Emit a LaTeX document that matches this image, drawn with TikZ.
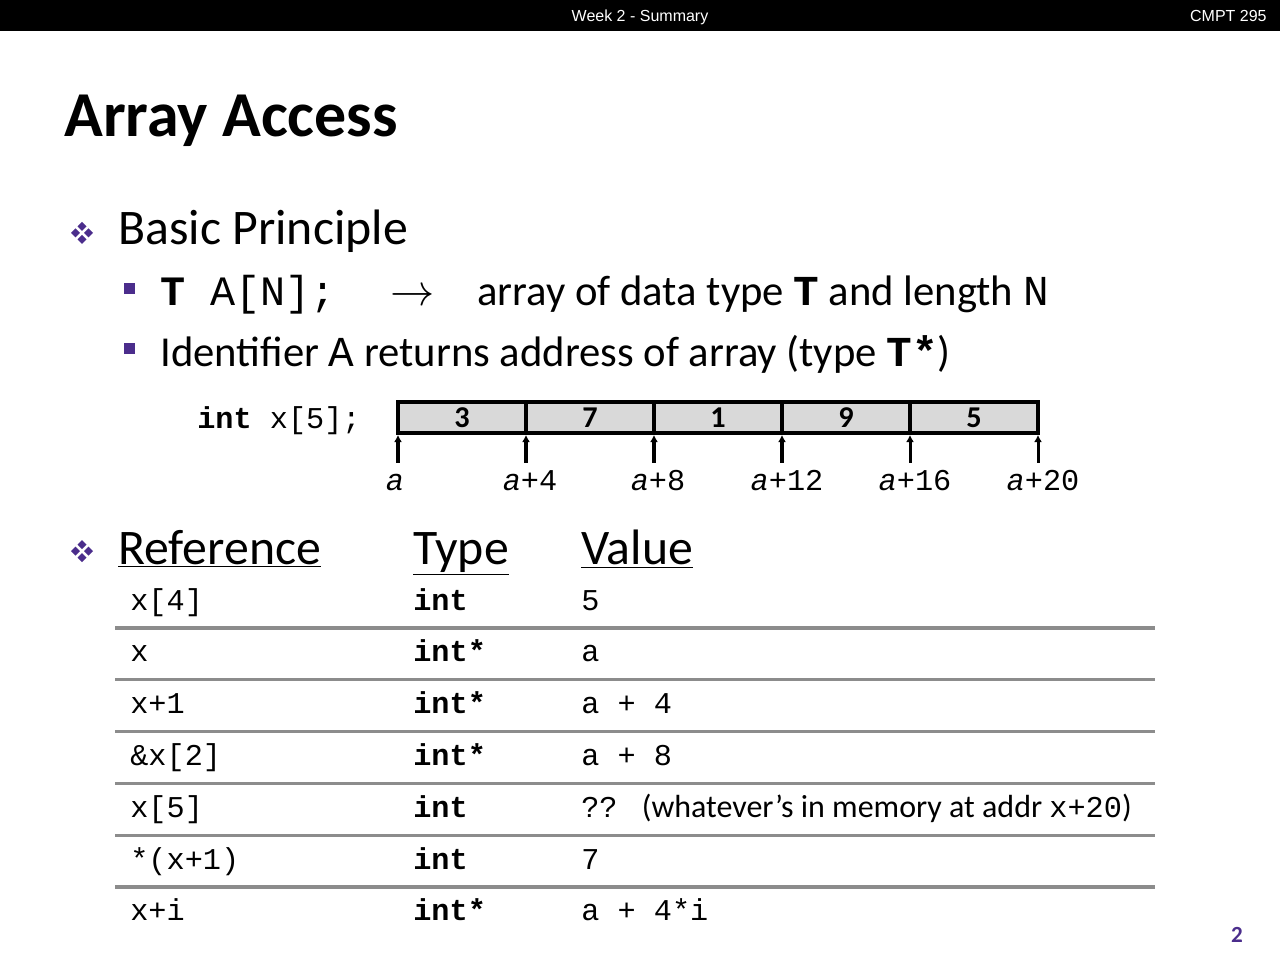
\documentclass[tikz,border=0pt]{standalone}
\usepackage{fontspec}
\setmainfont{Carlito}
\newfontfamily\codefont{Liberation Mono}
\newfontfamily\headfont{Liberation Sans}
\usetikzlibrary{positioning,arrows.meta}
\definecolor{slidepurple}{RGB}{75,45,140}
\definecolor{cellgray}{RGB}{217,217,217}
\definecolor{rulegray}{RGB}{140,140,140}

\begin{document}
\begin{tikzpicture}[x=0.5625pt,y=-0.5625pt,node distance=72pt,on grid,
txt/.style={anchor=base west,inner sep=0pt},
cell/.style={draw,line width=2.2pt,fill=cellgray,minimum width=72pt,
  minimum height=17.4pt,inner sep=0pt,font=\fontsize{17}{17}\selectfont\bfseries},
ptr/.style={-{Latex[length=4pt,width=4.5pt]},line width=1.7pt},
addr/.style={anchor=base,inner sep=0pt,text height=15pt,text depth=0pt,
  font=\fontsize{17}{17}\codefont},
code/.style={txt,font=\fontsize{17}{17}\codefont},
sq/.style={fill=slidepurple,minimum size=6.4pt,inner sep=0pt},
rowline/.style={rulegray,line width=1.7pt},
diamondbullet/.pic={
  \foreach \dx/\dy in {0/-6.5,-6.5/0,6.5/0,0/6.5}
    \fill[slidepurple] (\dx,\dy-4.5) -- (\dx+4.5,\dy) -- (\dx,\dy+4.5) -- (\dx-4.5,\dy) -- cycle;}]
\useasboundingbox (0,0) rectangle (1280,960);
\fill[white] (0,0) rectangle (1280,960);
% header bar
\fill[black] (0,0) rectangle (1280,31);
\node[anchor=base,inner sep=0pt,white,font=\headfont\fontsize{9}{9}\selectfont] (week) at (640,22) {Week 2 - Summary};
\node[anchor=base east,inner sep=0pt,white,font=\headfont\fontsize{9}{9}\selectfont] (course) at (1267,22) {CMPT 295};
\node[txt,font=\fontsize{36}{36}\selectfont\bfseries] (title) at (64,137) {Array Access};
% basic principle
\pic at (82,233) {diamondbullet};
\node[txt,font=\fontsize{28}{28}\selectfont] (basic) at (118,245) {Basic Principle};
\node[sq] (sq1) at (129.5,288.5) {};
\node[txt,font=\fontsize{23.5}{23.5}\codefont] (decl) at (160,306) {{\bfseries T} A[N];};
\node[txt,font=\fontsize{24}{24}\selectfont] (arrow) at (390,306) {$\rightarrow$};
\node[txt,font=\fontsize{24}{24}\selectfont] (meaning) at (477,306)
  {array of data type {\codefont\bfseries T} and length {\codefont N}};
\node[sq] (sq2) at (129.5,348.5) {};
\node[txt,font=\fontsize{24}{24}\selectfont] (ident) at (160,367)
  {Identifier {\codefont A} returns address of array (type {\codefont\bfseries T*})};
% array in memory
\node[code] (xdecl) at (197,428) {{\bfseries int} x[5];};
\node[cell] (c1) at (462,417.5) {3};
\node[cell,right=of c1] (c2) {7};
\node[cell,right=of c2] (c3) {1};
\node[cell,right=of c3] (c4) {9};
\node[cell,right=of c4] (c5) {5};
\foreach \n/\x/\dx/\lab in {a0/398/-3/{},a1/526/4/+4,a2/654/4/+8,a3/782/5/+12,a4/910/5/+16,a5/1038/5/+20}{
  \node[addr] (\n) at (\x+\dx,490) {{\itshape a}\lab};
  \draw[ptr] ([xshift=-\dx*0.5625pt]\n.north) -- ([xshift=-\dx*0.5625pt]\n.north |- c1.south);
}
% reference table
\pic at (82,551) {diamondbullet};
\node[txt,font=\fontsize{28}{28}\selectfont] (hdref) at (118,564) {\underline{Reference}};
\node[txt,font=\fontsize{28}{28}\selectfont] (hdtype) at (413,564) {\underline{Type}};
\node[txt,font=\fontsize{28}{28}\selectfont] (hdval) at (581,564) {\underline{Value}};
\foreach \r/\t/\v [count=\i from 0] in {x[4]/int/5,x/int*/a,x+1/int*/a + 4,\&x[2]/int*/a + 8,
  x[5]/int/{?? {\rmfamily\fontsize{18}{18}\selectfont (whatever’s in memory at addr {\codefont\fontsize{17}{17}\selectfont x+20})}},
  *(x+1)/int/7,x+i/int*/a + 4*i}{
  \node[code] (ref\i) at (130,610+51.8*\i) {\r};
  \node[code] (type\i) at (413,610+51.8*\i) {\bfseries\t};
  \node[code] (val\i) at (581,610+51.8*\i) {\v};
}
\foreach \i in {0,...,5}
  \draw[rowline] (115,628+51.8*\i) -- (1155,628+51.8*\i);
\node[anchor=base,inner sep=0pt,slidepurple,font=\fontsize{13}{13}\selectfont\bfseries] (page) at (1237,942) {2};
\end{tikzpicture}
\end{document}
